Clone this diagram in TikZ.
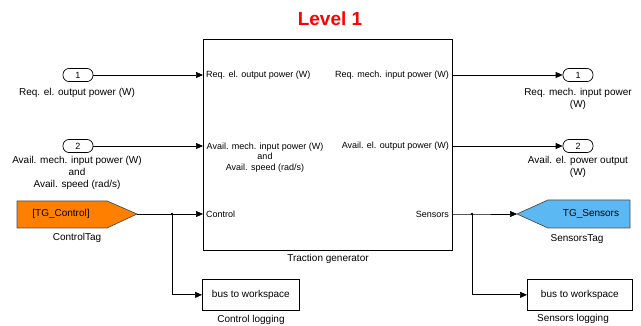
\documentclass[tikz,border=0pt]{standalone}
\usepackage{fontspec}
\setmainfont{Liberation Sans}
\usetikzlibrary{arrows.meta}
\definecolor{tagorange}{HTML}{FF8000}
\definecolor{tagblue}{HTML}{5CB8F2}
\tikzset{
  sig/.style={-{Triangle[length=7pt,width=6pt]}, line width=0.7pt},
  inport/.style={draw, line width=0.7pt, rounded corners=6pt, minimum width=30pt, minimum height=13pt, inner sep=0pt, font=\fontsize{9}{10}\selectfont},
  lbl/.style={font=\fontsize{10}{12}\selectfont, align=center, inner sep=0pt},
  portlbl/.style={font=\fontsize{9}{10.5}\selectfont, inner sep=0pt},
  taglbl/.style={font=\fontsize{10}{12}\selectfont, inner sep=0pt},
  wsbox/.style={draw, line width=0.7pt, minimum height=31pt, inner sep=0pt, font=\fontsize{10}{12}\selectfont},
}
\begin{document}
\begin{tikzpicture}[x=1pt, y=-1pt]
\useasboundingbox (0,0) rectangle (641,326);
\node[font=\fontsize{19}{22}\selectfont\bfseries, text=red] (title) at (330,19) {Level 1};

% Traction generator block
\node[draw, line width=0.8pt, anchor=north west, minimum width=249pt, minimum height=211pt, inner sep=0pt] (tg) at (203,39) {};
\node[lbl] (tgname) at (328,259) {Traction generator};
\coordinate (tgin1) at (203,75);
\coordinate (tgin2) at (203,146);
\coordinate (tgin3) at (203,214);
\coordinate (tgout1) at (452,75);
\coordinate (tgout2) at (452,146);
\coordinate (tgout3) at (452,214);
% port texts inside the block
\node[portlbl, anchor=west] (p1) at (206,75) {Req. el. output power (W)};
\node[portlbl, align=center, anchor=north] (p2) at (265,142.5) {Avail. mech. input power (W)\\and\\Avail. speed (rad/s)};
\node[portlbl, anchor=west] (p3) at (206,214) {Control};
\node[portlbl, anchor=east] (q1) at (449,75) {Req. mech. input power (W)};
\node[portlbl, anchor=east] (q2) at (449,146) {Avail. el. output power (W)};
\node[portlbl, anchor=east] (q3) at (449,214) {Sensors};

% inputs
\node[inport] (in1) at (78,75) {1};
\node[lbl, anchor=north] (in1lbl) at (77,88) {Req. el. output power (W)};
\node[inport] (in2) at (78,146) {2};
\node[lbl, anchor=north] (in2lbl) at (77,156) {Avail. mech. input power (W)\\and\\Avail. speed (rad/s)};
\draw[sig] (in1) -- (tgin1);
\draw[sig] (in2) -- (tgin2);

% outputs
\node[inport] (out1) at (578,75) {1};
\node[lbl, anchor=north] (out1lbl) at (578,88) {Req. mech. input power\\(W)};
\node[inport] (out2) at (578,146) {2};
\node[lbl, anchor=north] (out2lbl) at (578,156) {Avail. el. power output\\(W)};
\draw[sig] (tgout1) -- (out1);
\draw[sig] (tgout2) -- (out2);

% control tag
\draw[fill=tagorange, line width=0.7pt, draw=black!70] (17,201) -- (107,201) -- (137,214) -- (107,228) -- (17,228) -- cycle;
\coordinate (ctltip) at (137,214);
\node[taglbl] (ctltxt) at (61,214) {[TG\_Control]};
\node[lbl] (ctllbl) at (77,238) {ControlTag};
\coordinate (ctlsplit) at (172,214);
\draw[sig] (ctltip) -- (tgin3);
\fill (ctlsplit) circle (1.3pt);
\node[wsbox, minimum width=97pt, anchor=north west] (ctllog) at (202,279) {bus to workspace};
\node[lbl] (ctlloglbl) at (251,320) {Control logging};
\draw[sig] (ctlsplit) |- (ctllog.west);

% sensors tag
\draw[fill=tagblue, line width=0.7pt, draw=black!70] (517,214) -- (548,200) -- (630,200) -- (630,228) -- (548,228) -- cycle;
\coordinate (sentip) at (517,214);
\node[taglbl] (sentxt) at (591,214) {TG\_Sensors};
\node[lbl] (senlbl) at (577,239) {SensorsTag};
\coordinate (sensplit) at (472,214);
\draw[sig] (tgout3) -- (sensplit) -- (sentip);
\fill (sensplit) circle (1.3pt);
\node[wsbox, minimum width=105pt, anchor=north west] (senlog) at (527,279) {bus to workspace};
\node[lbl] (senloglbl) at (573,319) {Sensors logging};
\draw[sig] (sensplit) |- (senlog.west);
\end{tikzpicture}
\end{document}
